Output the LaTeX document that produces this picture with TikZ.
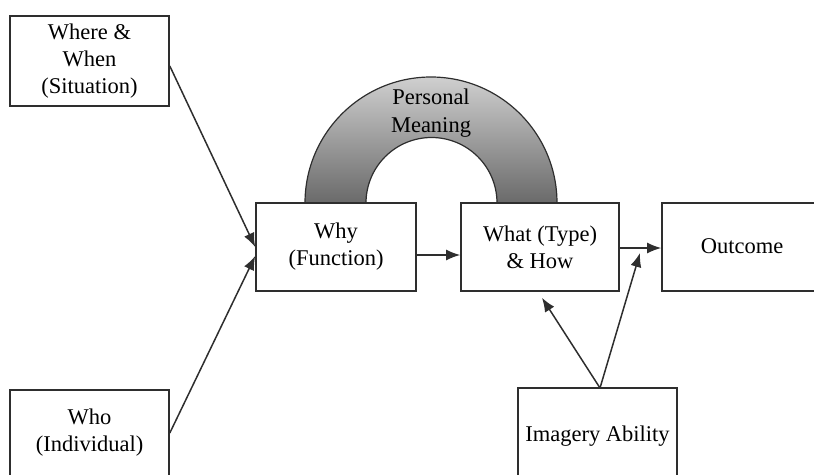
\documentclass[tikz,border=0pt]{standalone}
\usepackage{fontspec}
\setmainfont{Liberation Serif}
\usetikzlibrary{arrows.meta,calc}
\definecolor{linegray}{HTML}{2E2E2E}
\definecolor{archtop}{HTML}{CFCFCF}
\definecolor{archbot}{HTML}{6A6A6A}
\begin{document}
\begin{tikzpicture}[x=1pt,y=1pt,
  box/.style={draw=linegray,line width=1.6pt,fill=white,align=center,inner sep=0pt,
    font=\fontsize{22.5}{27}\selectfont},
  conn/.style={draw=linegray,line width=1.5pt,-{Latex[length=14pt,width=11pt]}}]
\useasboundingbox (0,0) rectangle (814,-474);
\clip (0,0) rectangle (814,-474);
% arch
\path[draw=linegray,line width=1.2pt,top color=archtop,bottom color=archbot]
  (305,-203) arc[start angle=180,end angle=0,radius=126] -- (497,-203)
  arc[start angle=0,end angle=180,radius=65.5] -- cycle;
\node[align=center,font=\fontsize{22.5}{28}\selectfont] (pm) at (431,-113) {Personal\\Meaning};
% boxes
\node[box,minimum width=159,minimum height=90] (where) at (89.5,-61) {Where \&\\When\\(Situation)};
\node[box,minimum width=159,minimum height=86] (who) at (89.5,-433) {Who\\(Individual)};
\node[box,minimum width=160,minimum height=88] (why) at (336,-247) {Why\\(Function)};
\node[box,minimum width=158,minimum height=88] (what) at (540,-247) {What (Type)\\\& How};
\node[box,minimum width=160,minimum height=88] (out) at (742,-247) {\raisebox{2pt}{Outcome}};
\node[box,minimum width=159,minimum height=100] (img) at (597.5,-438) {\raisebox{8pt}{Imagery Ability}};
% connectors
\coordinate (whyin1) at ($(why.west)+(0,0)$);
\coordinate (whyin2) at ($(why.west)+(0,-9)$);
\draw[conn] ($(where.east)+(0,-5)$) -- (whyin1);
\draw[conn] (who.east) -- (whyin2);
\draw[conn] ($(why.east)+(0,-8)$) -- ($(what.west)+(0,-8)$);
\draw[conn] ($(what.east)+(0,-1)$) -- ($(out.west)+(0,-1)$);
\coordinate (imgtop) at (600,-388);
\coordinate (whatbot) at ($(what.south)+(2,-6)$);
\coordinate (outin) at (640,-253);
\draw[conn] (imgtop) -- (whatbot);
\draw[conn] (imgtop) -- (outin);
\end{tikzpicture}
\end{document}
